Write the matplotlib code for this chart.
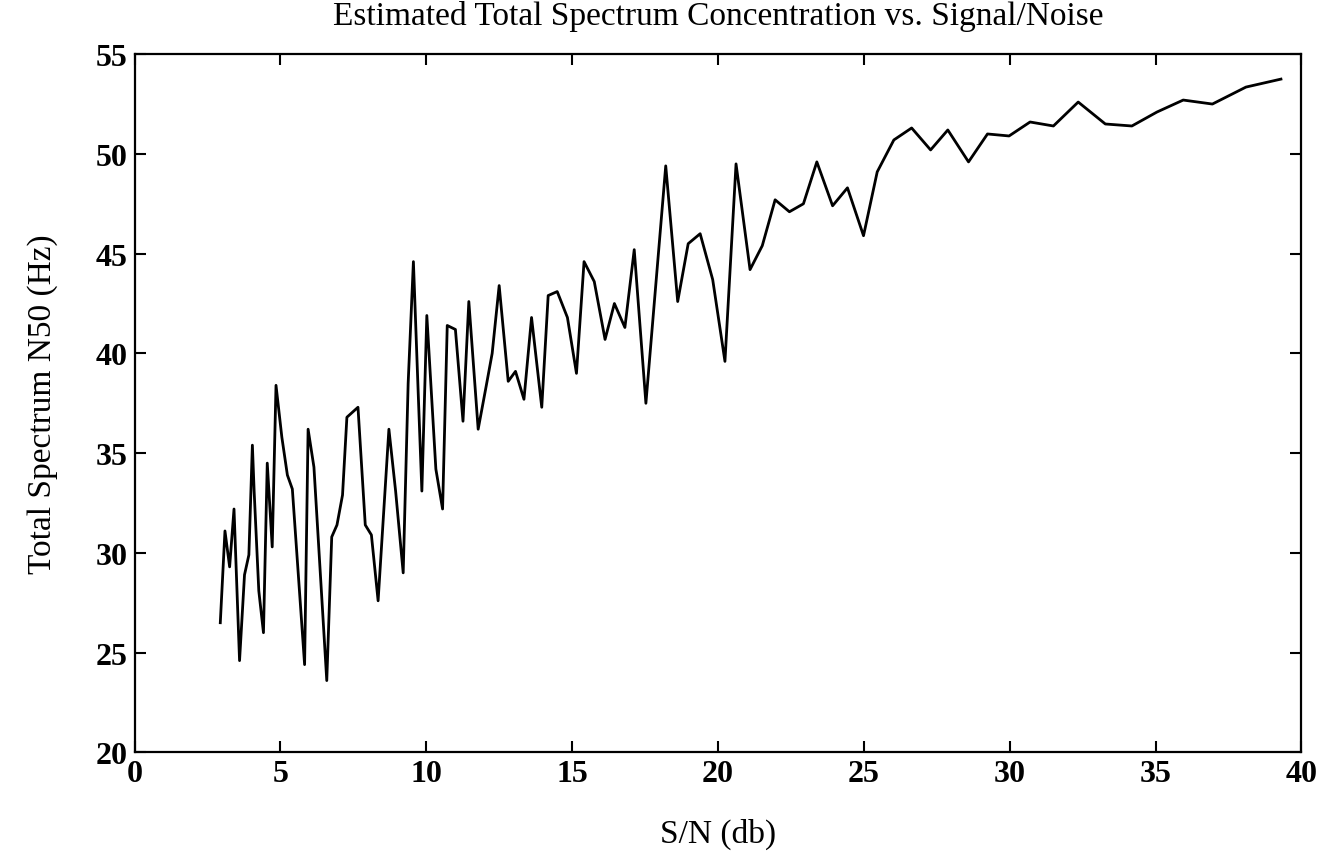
import matplotlib.pyplot as plt

# signal-to-noise sweep (db) and estimated N50 of the total spectrum (Hz)
snr_db = [2.94, 3.10, 3.26, 3.41, 3.60, 3.77, 3.92, 4.04, 4.10, 4.26,
          4.42, 4.55, 4.72, 4.85, 5.05, 5.24, 5.41, 5.83, 5.95, 6.15,
          6.59, 6.76, 6.94, 7.13, 7.28, 7.66, 7.91, 8.12, 8.35, 8.72,
          8.95, 9.21, 9.38, 9.56, 9.72, 9.85, 10.02, 10.33, 10.56, 10.72,
          11.00, 11.26, 11.46, 11.78, 12.06, 12.26, 12.50, 12.81, 13.06, 13.35,
          13.61, 13.96, 14.18, 14.49, 14.84, 15.15, 15.41, 15.76, 16.13, 16.45,
          16.81, 17.13, 17.53, 18.21, 18.62, 18.98, 19.39, 19.82, 20.24, 20.62,
          21.10, 21.52, 21.96, 22.45, 22.93, 23.39, 23.93, 24.44, 24.99, 25.46,
          26.03, 26.64, 27.29, 27.88, 28.59, 29.24, 29.98, 30.70, 31.50, 32.35,
          33.28, 34.19, 35.05, 35.95, 36.95, 38.10, 39.30]
n50_hz = [26.5, 31.1, 29.3, 32.2, 24.6, 28.9, 29.9, 35.4, 33.1, 28.1,
          26.0, 34.5, 30.3, 38.4, 35.8, 33.9, 33.2, 24.4, 36.2, 34.3,
          23.6, 30.8, 31.4, 32.9, 36.8, 37.3, 31.4, 30.9, 27.6, 36.2,
          33.1, 29.0, 38.5, 44.6, 38.2, 33.1, 41.9, 34.2, 32.2, 41.4,
          41.2, 36.6, 42.6, 36.2, 38.4, 40.0, 43.4, 38.6, 39.1, 37.7,
          41.8, 37.3, 42.9, 43.1, 41.8, 39.0, 44.6, 43.6, 40.7, 42.5,
          41.3, 45.2, 37.5, 49.4, 42.6, 45.5, 46.0, 43.7, 39.6, 49.5,
          44.2, 45.4, 47.7, 47.1, 47.5, 49.6, 47.4, 48.3, 45.9, 49.1,
          50.7, 51.3, 50.2, 51.2, 49.6, 51.0, 50.9, 51.6, 51.4, 52.6,
          51.5, 51.4, 52.1, 52.7, 52.5, 53.35, 53.75]

plt.rcParams['font.family'] = ['Liberation Serif', 'DejaVu Serif']

fig = plt.figure(figsize=(13.32, 8.62), dpi=100)
ax = fig.add_axes([0.101, 0.126, 0.876, 0.81])

ax.plot(snr_db, n50_hz, color='black', linewidth=2.0)

ax.set_xlim(0, 40)
ax.set_ylim(20, 55)
ax.set_xticks(range(0, 41, 5))
ax.set_yticks(range(20, 56, 5))

ax.tick_params(direction='in', length=8, width=1.5, top=True, right=True,
               labelsize=23, pad=5)
for lbl in ax.get_xticklabels() + ax.get_yticklabels():
    lbl.set_fontweight('bold')
for sp in ax.spines.values():
    sp.set_linewidth(1.6)

fig.text(0.539, 0.981, 'Estimated Total Spectrum Concentration vs. Signal/Noise',
         fontsize=24, ha='center', va='center')
ax.set_xlabel('S/N (db)', fontsize=24)
ax.xaxis.set_label_coords(0.5, -0.093)
ax.set_ylabel('Total Spectrum N50 (Hz)', fontsize=24)
ax.yaxis.set_label_coords(-0.066, 0.5)

fig.savefig('out.png', dpi=100)
